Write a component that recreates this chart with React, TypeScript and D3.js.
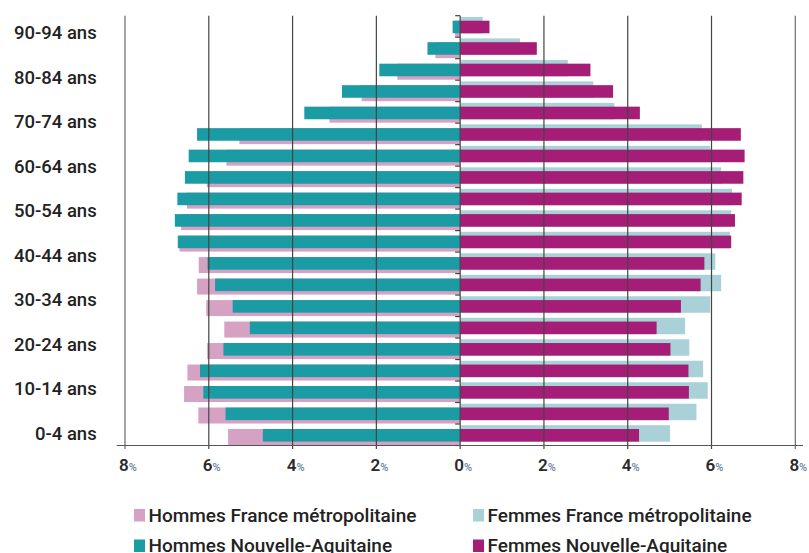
import React from "react";
import * as d3 from "d3";

const ageGroups = ["0-4","5-9","10-14","15-19","20-24","25-29","30-34","35-39","40-44","45-49","50-54","55-59","60-64","65-69","70-74","75-79","80-84","85-89","90-94","95+"];
const ageLabels = ["0-4 ans","10-14 ans","20-24 ans","30-34 ans","40-44 ans","50-54 ans","60-64 ans","70-74 ans","80-84 ans","90-94 ans"];
const hommesNA = [4.71,5.60,6.13,6.21,5.65,5.02,5.43,5.85,6.03,6.74,6.81,6.75,6.57,6.48,6.28,3.72,2.82,1.93,0.78,0.18];
const hommesFR = [5.54,6.25,6.59,6.51,6.04,5.63,6.06,6.28,6.24,6.70,6.66,6.52,6.05,5.58,5.27,3.12,2.35,1.50,0.59,0.12];
const femmesNA = [4.27,4.98,5.46,5.45,5.02,4.69,5.27,5.74,5.83,6.47,6.56,6.72,6.76,6.79,6.70,4.29,3.65,3.11,1.83,0.70];
const femmesFR = [5.01,5.64,5.91,5.80,5.47,5.37,5.97,6.23,6.09,6.44,6.47,6.49,6.23,5.97,5.77,3.68,3.18,2.57,1.43,0.54];
const xTicks = [-8,-6,-4,-2,0,2,4,6,8];
const legendItems = [
  { label: "Hommes France métropolitaine", color: "#d6a2c4" },
  { label: "Femmes France métropolitaine", color: "#aad1d7" },
  { label: "Hommes Nouvelle-Aquitaine", color: "#1b9ba3" },
  { label: "Femmes Nouvelle-Aquitaine", color: "#a61d78" },
];

const C_HFR = "#d6a2c4";
const C_FFR = "#aad1d7";
const C_HNA = "#1b9ba3";
const C_FNA = "#a61d78";

export default function App() {
  const W = 809, H = 553;
  const x = d3.scaleLinear().domain([-8, 8]).range([125, 795.3]);
  const y = d3.scaleBand<string>().domain([...ageGroups].reverse()).range([15.7, 445.5]).padding(0);
  const bw = y.bandwidth();
  const yl = d3.scalePoint<string>().domain(ageLabels).range([433.3, 32.7]);
  const x0 = x(0);
  const font = "Roboto, 'Noto Sans', sans-serif";
  const boundaries = d3.range(ageGroups.length + 1).map((i) => 15.7 + i * bw);

  return (
    <svg width={W} height={H} style={{ position: "absolute", left: 0, top: 0, background: "#fff" }} fontFamily={font}>
      {/* France bars (behind) */}
      {ageGroups.map((g, i) => {
        const b = y(g)!;
        return (
          <g key={"fr" + g}>
            <rect x={x(-hommesFR[i])} y={b + 5} width={x0 - x(-hommesFR[i])} height={16} fill={C_HFR} />
            <rect x={x0} y={b + 1.2} width={x(femmesFR[i]) - x0} height={16.5} fill={C_FFR} />
          </g>
        );
      })}
      {/* Nouvelle-Aquitaine bars */}
      {ageGroups.map((g, i) => {
        const b = y(g)!;
        return (
          <g key={"na" + g}>
            <rect x={x(-hommesNA[i])} y={b + 5} width={x0 - x(-hommesNA[i])} height={12.6} fill={C_HNA} />
            <rect x={x0} y={b + 5} width={x(femmesNA[i]) - x0} height={12.6} fill={C_FNA} />
          </g>
        );
      })}
      {/* gridlines */}
      {xTicks.map((t) => (
        <line key={"g" + t} x1={x(t)} x2={x(t)} y1={15.7} y2={449} stroke={Math.abs(t) === 8 ? "#6a6a6a" : "#444"} strokeWidth={1.2} />
      ))}
      {/* zero ticks */}
      {boundaries.map((yy, i) => (
        <line key={"t" + i} x1={x0 - 5} x2={x0} y1={yy} y2={yy} stroke="#444" strokeWidth={1.2} />
      ))}
      {/* x axis line */}
      <line x1={116.7} x2={803} y1={445.5} y2={445.5} stroke="#555" strokeWidth={1.2} />
      {/* x tick labels */}
      {xTicks.map((t) => (
        <text key={"xl" + t} x={x(t) + 3} y={471} textAnchor="middle" fontSize={17} fontWeight={600} fill="#2a2a2a">
          {Math.abs(t)}
          <tspan fontSize={11} fontWeight={500} fill="#6a84a0">%</tspan>
        </text>
      ))}
      {/* y labels */}
      {ageLabels.map((l) => (
        <text key={l} x={96.7} y={yl(l)!} dy="0.35em" textAnchor="end" fontSize={18.5} fontWeight={500} fill="#222">
          {l}
        </text>
      ))}
      {/* legend */}
      {legendItems.map((it, i) => {
        const col = i % 2, row = Math.floor(i / 2);
        const lx = col === 0 ? 134 : 473;
        const ly = 509 + row * 30.5;
        return (
          <g key={it.label}>
            <rect x={lx} y={ly} width={11} height={12.5} fill={it.color} />
            <text x={lx + 14.5} y={ly + 12.5} fontSize={19} fontWeight={500} fill="#222">{it.label}</text>
          </g>
        );
      })}
    </svg>
  );
}
